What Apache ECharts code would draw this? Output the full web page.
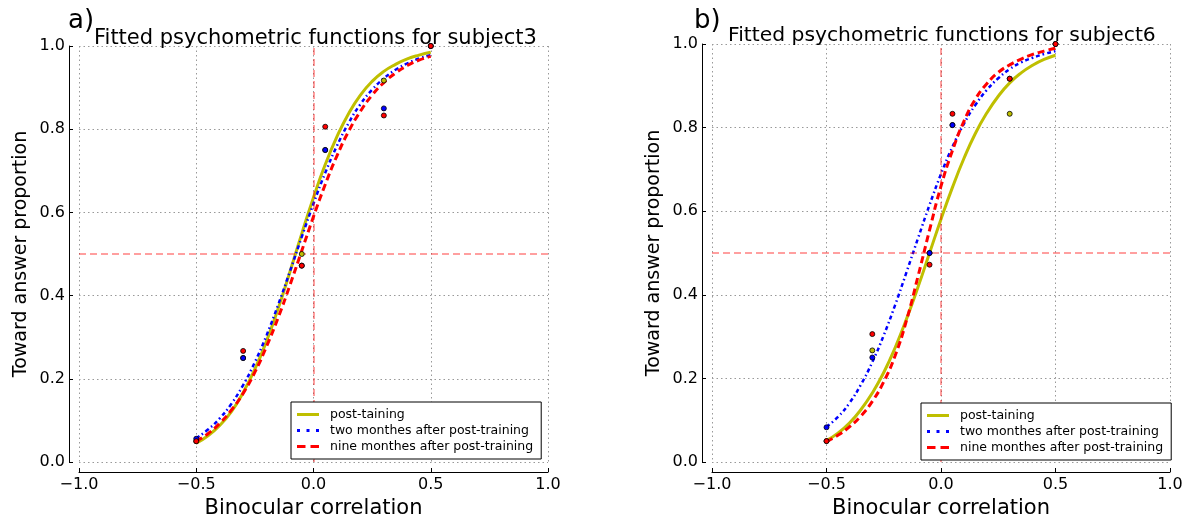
<!DOCTYPE html>
<html>
<head>
<meta charset="utf-8">
<script src="https://cdn.jsdelivr.net/npm/echarts@6/dist/echarts.min.js"></script>
<style>
  html, body { margin: 0; padding: 0; background: #fff; }
  #chart { width: 1186px; height: 517px; }
</style>
</head>
<body>
<div id="chart"></div>
<script>
// points
var curveX = [-0.5, -0.45, -0.4, -0.35, -0.3, -0.25, -0.2, -0.15, -0.1, -0.05, 0,
              0.05, 0.1, 0.15, 0.2, 0.25, 0.3, 0.35, 0.4, 0.45, 0.5];

// subject3
var a_post  = [0.045, 0.063, 0.088, 0.121, 0.167, 0.223, 0.291, 0.370, 0.458, 0.549, 0.636,
               0.715, 0.782, 0.838, 0.882, 0.915, 0.939, 0.956, 0.969, 0.978, 0.985];
var a_two   = [0.057, 0.078, 0.105, 0.140, 0.185, 0.240, 0.305, 0.379, 0.459, 0.541, 0.621,
               0.695, 0.760, 0.815, 0.860, 0.895, 0.922, 0.943, 0.958, 0.970, 0.978];
var a_nine  = [0.050, 0.068, 0.093, 0.125, 0.165, 0.216, 0.278, 0.348, 0.426, 0.508, 0.590,
               0.667, 0.736, 0.795, 0.843, 0.882, 0.912, 0.935, 0.953, 0.966, 0.975];
// subject6
var b_post  = [0.051, 0.069, 0.093, 0.125, 0.165, 0.214, 0.274, 0.343, 0.419, 0.500, 0.581,
               0.657, 0.726, 0.786, 0.835, 0.875, 0.907, 0.931, 0.949, 0.963, 0.973];
var b_two   = [0.084, 0.108, 0.141, 0.185, 0.239, 0.303, 0.376, 0.455, 0.536, 0.615, 0.689,
               0.754, 0.809, 0.854, 0.890, 0.918, 0.940, 0.956, 0.967, 0.976, 0.983];
var b_nine  = [0.049, 0.064, 0.084, 0.110, 0.145, 0.192, 0.255, 0.340, 0.445, 0.555, 0.660,
               0.745, 0.815, 0.868, 0.905, 0.932, 0.950, 0.964, 0.975, 0.983, 0.990];

// observed proportions
var obsX = [-0.5, -0.3, -0.05, 0.05, 0.3, 0.5];
var a_obs_post = [0.050, 0.250, 0.500, 0.750, 0.917, 1.0];
var a_obs_two  = [0.056, 0.250, 0.472, 0.750, 0.850, 1.0];
var a_obs_nine = [0.050, 0.267, 0.472, 0.806, 0.833, 1.0];
var b_obs_post = [0.050, 0.267, 0.500, 0.806, 0.833, 1.0];
var b_obs_two  = [0.083, 0.250, 0.500, 0.806, 0.917, 1.0];
var b_obs_nine = [0.050, 0.306, 0.472, 0.833, 0.917, 1.0];

var names = ['post-taining', 'two monthes after post-training', 'nine monthes after post-training'];
var colors = ['#bfbf00', '#0000ff', '#ff0000'];
var refX = 0, refY = 0.5;

var FONT = 'DejaVu Sans';

// legend samples: solid, dotted, dashed
var legendIcons = [
  'path://M0,0H22V3H0Z',
  'path://M0,0H3V3H0Z M9.5,0H12.5V3H9.5Z M19,0H22V3H19Z',
  'path://M0,0H8.5V3H0Z M13.5,0H22V3H13.5Z'
];

function zip(xs, ys) {
  return xs.map(function (x, i) { return [x, ys[i]]; });
}
function fmt(v) {
  return v.toFixed(1).replace('-', '\u2212');
}

var chart = echarts.init(document.getElementById('chart'));

var grids = [
  {left: 79, top: 46, width: 469, height: 416, outerBoundsMode: 'none'},
  {left: 712, top: 44, width: 458, height: 418, outerBoundsMode: 'none'}
];

function xAxisFor(i) {
  return {
    gridIndex: i, type: 'value', min: -1, max: 1, interval: 0.5, offset: 10,
    name: 'Binocular correlation', nameLocation: 'middle', nameGap: 25,
    nameTextStyle: {fontFamily: FONT, fontSize: 21, color: '#000'},
    axisLine: {show: true, onZero: false, lineStyle: {color: '#000', width: 1}},
    axisTick: {show: true, inside: true, length: 4, lineStyle: {color: '#000'}},
    axisLabel: {formatter: fmt, fontFamily: FONT, fontSize: 16, color: '#000', margin: 5},
    splitLine: {show: true, lineStyle: {color: '#999', type: [1.5, 3], width: 1}}
  };
}
function yAxisFor(i) {
  return {
    gridIndex: i, type: 'value', min: 0, max: 1, interval: 0.2, offset: 10,
    name: 'Toward answer proportion', nameLocation: 'middle', nameGap: 38,
    nameTextStyle: {fontFamily: FONT, fontSize: 19, color: '#000'},
    axisLine: {show: true, onZero: false, lineStyle: {color: '#000', width: 1}},
    axisTick: {show: true, inside: true, length: 4, lineStyle: {color: '#000'}},
    axisLabel: {formatter: fmt, fontFamily: FONT, fontSize: 16, color: '#000', margin: 4},
    splitLine: {show: true, lineStyle: {color: '#999', type: [1.5, 3], width: 1}}
  };
}

var lineStyles = [
  {color: colors[0], width: 3, type: 'solid'},
  {color: colors[1], width: 2.5, type: [4, 3, 1.5, 3]},
  {color: colors[2], width: 3, type: [7, 4]}
];

var series = [];
function addPanel(i, curves, obs) {
  curves.forEach(function (ys, k) {
    var s = {
      name: names[k], type: 'line', xAxisIndex: i, yAxisIndex: i,
      data: zip(curveX, ys), smooth: true, symbol: 'none', z: 3 + k,
      lineStyle: lineStyles[k], itemStyle: {color: colors[k]}
    };
    if (k === 0) {
      s.markLine = {
        silent: true, symbol: 'none', label: {show: false},
        lineStyle: {color: 'rgba(255,0,0,0.5)', type: [7, 4], width: 1.5},
        data: [{yAxis: refY}, {xAxis: refX}]
      };
    }
    series.push(s);
  });
  obs.forEach(function (ys, k) {
    series.push({
      name: 'obs' + i + '-' + k, type: 'scatter', xAxisIndex: i, yAxisIndex: i,
      data: zip(obsX, ys), symbol: 'circle', symbolSize: 5, z: 10 + k,
      itemStyle: {color: colors[k], borderColor: '#000', borderWidth: 0.8, opacity: 1}
    });
  });
}
addPanel(0, [a_post, a_two, a_nine], [a_obs_post, a_obs_two, a_obs_nine]);
addPanel(1, [b_post, b_two, b_nine], [b_obs_post, b_obs_two, b_obs_nine]);

function legendFor(left, top) {
  return {
    data: names.map(function (n, k) { return {name: n, icon: legendIcons[k]}; }),
    orient: 'vertical', left: left, top: top, z: 30,
    padding: [5, 8, 5, 6], itemGap: 1, itemWidth: 22, itemHeight: 3,
    symbolKeepAspect: false,
    backgroundColor: '#fff', borderColor: '#000', borderWidth: 1, borderRadius: 0,
    itemStyle: {borderWidth: 0},
    textStyle: {fontFamily: FONT, fontSize: 12.5, color: '#000', padding: [0, 0, 0, 6], lineHeight: 15},
    selectedMode: false
  };
}

var option = {
  animation: false,
  grid: grids,
  xAxis: [xAxisFor(0), xAxisFor(1)],
  yAxis: [yAxisFor(0), yAxisFor(1)],
  legend: [legendFor(291, 402), legendFor(921, 403)],
  title: [
    {text: 'a)', left: 63, top: 3, textStyle: {fontFamily: FONT, fontSize: 26, fontWeight: 'normal', color: '#000'}},
    {text: 'Fitted psychometric functions for subject3', left: 89, top: 23,
     textStyle: {fontFamily: FONT, fontSize: 21, fontWeight: 'normal', color: '#000'}},
    {text: 'b)', left: 689, top: 3, textStyle: {fontFamily: FONT, fontSize: 26, fontWeight: 'normal', color: '#000'}},
    {text: 'Fitted psychometric functions for subject6', left: 723, top: 21,
     textStyle: {fontFamily: FONT, fontSize: 20.3, fontWeight: 'normal', color: '#000'}}
  ],
  series: series
};
chart.setOption(option);
</script>
</body>
</html>
